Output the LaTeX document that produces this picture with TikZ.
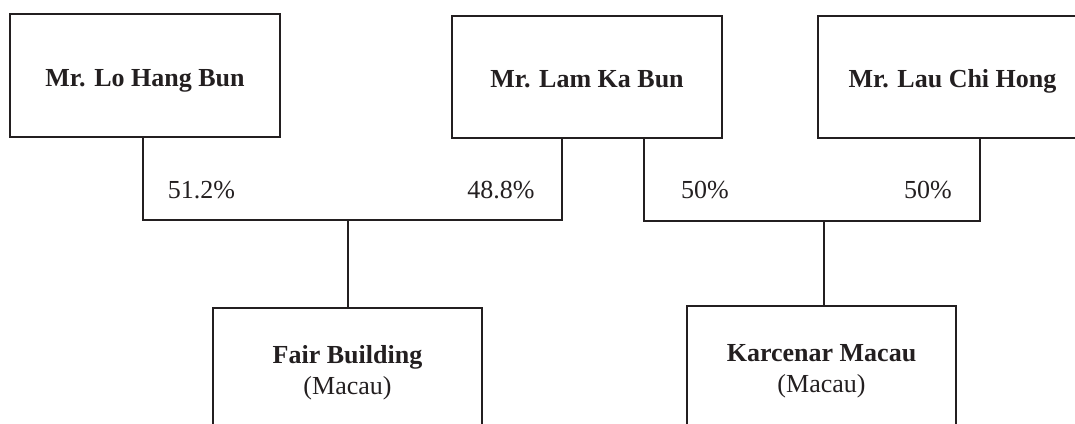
\documentclass[tikz,border=0pt]{standalone}
\usepackage{fontspec}
\setmainfont{Liberation Serif}
\usetikzlibrary{calc}
\definecolor{ink}{HTML}{231F20}
\begin{document}
\begin{tikzpicture}[x=1pt,y=-1pt,
  box/.style={draw=ink,line width=1.3pt,minimum width=#1,minimum height=122pt,inner sep=0pt,outer sep=0pt},
  box/.default=270pt,
  boldtext/.style={anchor=base,font=\fontsize{26}{30}\selectfont\bfseries,text=ink,inner sep=0pt},
  subtext/.style={anchor=base,font=\fontsize{26}{30}\selectfont,text=ink,inner sep=0pt},
  pct/.style={anchor=base,font=\fontsize{26}{30}\selectfont,text=ink,inner sep=0pt},
  link/.style={draw=ink,line width=1.3pt}]
\useasboundingbox (0,0) rectangle (1075,423);
\clip (0,0) rectangle (1075,423);
% top boxes
\node[box,minimum height=123pt] (b1) at (145,75.5) {};
\node[box] (b2) at (587,77) {};
\node[box=269pt] (b3) at (952.5,77) {};
\node[boldtext] (t1) at (145,86) {Mr. Lo Hang Bun};
\node[boldtext] (t2) at (587,87) {Mr. Lam Ka Bun};
\node[boldtext] (t3) at (952.5,87) {Mr. Lau Chi Hong};
% bottom boxes
\node[box=269pt] (b4) at (347.5,369) {};
\node[box=269pt] (b5) at (821.5,367) {};
\node[boldtext] (t4) at (347.5,363) {Fair Building};
\node[subtext] (s4) at (347.5,394) {(Macau)};
\node[boldtext] (t5) at (821.5,361) {Karcenar Macau};
\node[subtext] (s5) at (821.5,392) {(Macau)};
% junctions
\coordinate (j1) at (348,220);
\coordinate (j2) at (824,221);
% connectors
\draw[link] ($(b1.south)+(-2,0)$) |- (j1) -| ($(b2.south)+(-25,0)$);
\draw[link] (j1) -- (j1 |- b4.north);
\draw[link] ($(b2.south)+(57,0)$) |- (j2) -| ($(b3.south)+(27.5,0)$);
\draw[link] (j2) -- (j2 |- b5.north);
% percentages
\node[pct] (p1) at (201.5,198) {51.2\%};
\node[pct] (p2) at (501,198) {48.8\%};
\node[pct] (p3) at (705,198) {50\%};
\node[pct] (p4) at (928,198) {50\%};
\end{tikzpicture}
\end{document}
